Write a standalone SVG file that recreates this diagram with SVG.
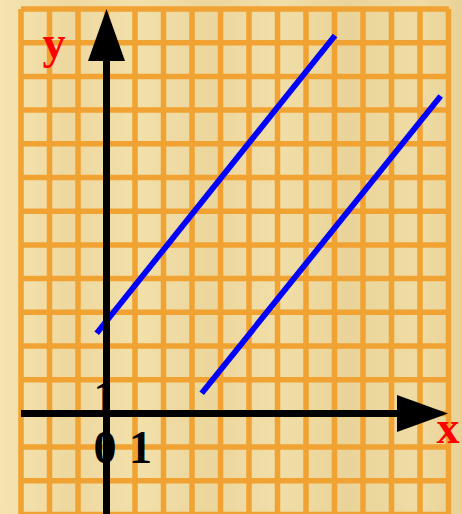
<svg xmlns="http://www.w3.org/2000/svg" width="462" height="514" viewBox="0 0 462 514">
<defs>
<linearGradient id="bg" x1="0" y1="0" x2="1" y2="0">
<stop offset="0" stop-color="#F5E4B0"/>
<stop offset="0.15" stop-color="#EDD89F"/>
<stop offset="0.3" stop-color="#F2E0AA"/>
<stop offset="0.45" stop-color="#EBD69C"/>
<stop offset="0.6" stop-color="#F1DEA8"/>
<stop offset="0.75" stop-color="#E9D398"/>
<stop offset="0.9" stop-color="#EFDCA4"/>
<stop offset="1" stop-color="#E8D297"/>
</linearGradient>
<style>
.grid line{stroke:#F0A232;stroke-width:5.5}
.axis{stroke:#000;stroke-width:7;fill:none}
.head{fill:#000}
.blue{stroke:#0000FF;stroke-width:5.8;fill:none}
.lbl{font-family:"Liberation Serif","Times New Roman",serif;font-weight:bold;font-size:46px;text-anchor:middle}
</style>
</defs>
<rect x="0" y="0" width="462" height="514" fill="url(#bg)"/>
<g id="grid" class="grid">
<line x1="21" y1="9" x2="449" y2="9"/>
<line x1="21" y1="42.7" x2="448.5" y2="42.7"/>
<line x1="21" y1="76.4" x2="448.5" y2="76.4"/>
<line x1="21" y1="110.1" x2="448.5" y2="110.1"/>
<line x1="21" y1="143.8" x2="448.5" y2="143.8"/>
<line x1="21" y1="177.5" x2="448.5" y2="177.5"/>
<line x1="21" y1="211.2" x2="448.5" y2="211.2"/>
<line x1="21" y1="244.9" x2="448.5" y2="244.9"/>
<line x1="21" y1="278.6" x2="448.5" y2="278.6"/>
<line x1="21" y1="312.3" x2="448.5" y2="312.3"/>
<line x1="21" y1="346" x2="448.5" y2="346"/>
<line x1="21" y1="379.7" x2="448.5" y2="379.7"/>
<line x1="21" y1="413.4" x2="448.5" y2="413.4"/>
<line x1="21" y1="447.1" x2="448.5" y2="447.1"/>
<line x1="21" y1="480.8" x2="448.5" y2="480.8"/>
<line x1="21" y1="514.5" x2="448.5" y2="514.5"/>
<line x1="21" y1="9" x2="21" y2="514"/>
<line x1="49.5" y1="9" x2="49.5" y2="514"/>
<line x1="78" y1="9" x2="78" y2="514"/>
<line x1="106.5" y1="9" x2="106.5" y2="514"/>
<line x1="135" y1="9" x2="135" y2="514"/>
<line x1="163.5" y1="9" x2="163.5" y2="514"/>
<line x1="192" y1="9" x2="192" y2="514"/>
<line x1="220.5" y1="9" x2="220.5" y2="514"/>
<line x1="249" y1="9" x2="249" y2="514"/>
<line x1="277.5" y1="9" x2="277.5" y2="514"/>
<line x1="306" y1="9" x2="306" y2="514"/>
<line x1="334.5" y1="9" x2="334.5" y2="514"/>
<line x1="363" y1="9" x2="363" y2="514"/>
<line x1="391.5" y1="9" x2="391.5" y2="514"/>
<line x1="420" y1="9" x2="420" y2="514"/>
<line x1="448.5" y1="9" x2="448.5" y2="514"/>
</g>
<text id="label-y1" class="lbl" x="105" y="413" fill="#000">1</text>
<g id="connectors">
<line class="blue" x1="96.7" y1="333.3" x2="335" y2="35.5"/>
<line class="blue" x1="201.7" y1="393.3" x2="440.7" y2="96"/>
</g>
<g id="y-axis">
<line class="axis" x1="106.5" y1="58" x2="106.5" y2="514"/>
<polygon class="head" points="106.5,9 125,61 88,61"/>
</g>
<g id="x-axis">
<line class="axis" x1="21" y1="413.5" x2="400" y2="413.5"/>
<polygon class="head" points="448,413.5 397,395 397,432"/>
</g>
<text id="label-y" class="lbl" x="54" y="58" fill="#FF0000">y</text>
<text id="label-x" class="lbl" x="448" y="443" fill="#FF0000">x</text>
<text id="label-0" class="lbl" x="105" y="463" fill="#000">0</text>
<text id="label-1" class="lbl" x="140.5" y="463" fill="#000">1</text>
</svg>
